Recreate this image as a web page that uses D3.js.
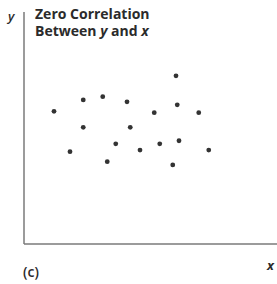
<!DOCTYPE html>
<html lang="en">
<head>
<meta charset="UTF-8">
<title>Zero Correlation Between y and x</title>
<script src="https://d3js.org/d3.v7.min.js"></script>
<style>
    body { margin: 0; background: #fff; }
    text { font-family: "Open Sans", "DejaVu Sans", sans-serif; fill: #2b2b2b; }
</style>
</head>
<body>
<div id="chart"></div>
<script>
const width = 277;
const height = 284;

// values (arbitrary units, 0-10)
const xValues = [1.2, 2.37, 3.15, 4.12, 6.08, 6.13, 5.21, 6.99, 2.37, 4.25, 1.84, 3.67, 3.33, 4.64, 5.43, 6.2, 7.39, 5.95];
const yValues = [5.72, 6.21, 6.35, 6.13, 7.25, 6.0, 5.66, 5.66, 5.03, 5.03, 3.98, 4.32, 3.55, 4.05, 4.32, 4.45, 4.05, 3.41];
const titleLines = ["Zero Correlation", "Between y and x"];

const points = xValues.map((x, i) => ({ x: x, y: yValues[i] }));

const x = d3.scaleLinear().domain([0, 10]).range([24, 274]);
const y = d3.scaleLinear().domain([0, 10]).range([244, 12]);

const svg = d3.select("#chart")
    .append("svg")
    .attr("width", width)
    .attr("height", height);

// axes: plain lines without ticks
svg.append("line")
    .attr("x1", x(0)).attr("x2", x(0))
    .attr("y1", y(10)).attr("y2", y(0))
    .attr("stroke", "#7a7a7a").attr("stroke-width", 1.5);
svg.append("line")
    .attr("x1", x(0)).attr("x2", width)
    .attr("y1", y(0)).attr("y2", y(0))
    .attr("stroke", "#7a7a7a").attr("stroke-width", 1.5);

svg.selectAll("circle")
    .data(points)
    .join("circle")
    .attr("cx", d => x(d.x))
    .attr("cy", d => y(d.y))
    .attr("r", 2.4)
    .attr("fill", "#333");

// title, two separate lines; y and x in italic
svg.append("text")
    .attr("x", 35)
    .attr("y", 19)
    .style("font-size", "14px")
    .style("font-weight", "bold")
    .text(titleLines[0]);

const line2 = svg.append("text")
    .attr("x", 35)
    .attr("y", 35.5)
    .style("font-size", "14px")
    .style("font-weight", "bold");
titleLines[1].split(/(\b[xy]\b)/).forEach(part => {
    if (!part) return;
    line2.append("tspan")
        .style("font-style", part === "x" || part === "y" ? "italic" : "normal")
        .text(part);
});

svg.append("text")
    .attr("x", 8).attr("y", 21)
    .style("font-size", "13px")
    .style("font-weight", "600")
    .style("font-style", "italic")
    .text("y");

svg.append("text")
    .attr("x", 267).attr("y", 270)
    .style("font-size", "13px")
    .style("font-weight", "bold")
    .style("font-style", "italic")
    .text("x");

svg.append("text")
    .attr("x", 23).attr("y", 277)
    .style("font-size", "14px")
    .style("font-weight", "600")
    .text("(c)");
</script>
</body>
</html>
